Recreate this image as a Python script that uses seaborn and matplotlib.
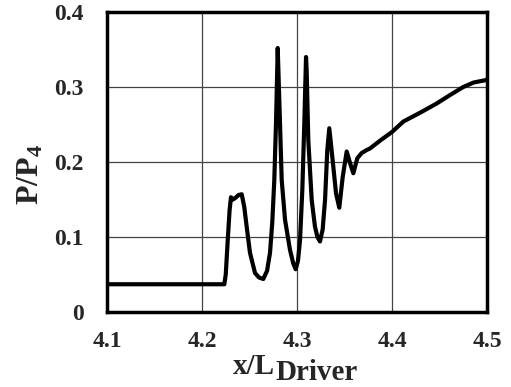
import matplotlib
matplotlib.use("Agg")
import matplotlib.pyplot as plt
import seaborn as sns
import pandas as pd

x_vals = [4.1000, 4.2235, 4.2250, 4.2271, 4.2290, 4.2305, 4.2326, 4.2350, 4.2385,
          4.2418, 4.2445, 4.2471, 4.2505, 4.2558, 4.2600, 4.2645, 4.2685, 4.2716,
          4.2740, 4.2761, 4.2779, 4.2797, 4.2821, 4.2839, 4.2874, 4.2926, 4.2960,
          4.2986, 4.3010, 4.3032, 4.3056, 4.3077, 4.3095, 4.3102, 4.3119, 4.3155,
          4.3189, 4.3215, 4.3242, 4.3270, 4.3295, 4.3319, 4.3340, 4.3382, 4.3411,
          4.3445, 4.3481, 4.3523, 4.3565, 4.3593, 4.3635, 4.3681, 4.3734, 4.3768,
          4.3880, 4.4000, 4.4120, 4.4300, 4.4470, 4.4620, 4.4750, 4.4860, 4.4980,
          4.5000]
p_vals = [0.037, 0.037, 0.050, 0.096, 0.135, 0.153, 0.150, 0.152, 0.156,
          0.157, 0.140, 0.113, 0.079, 0.052, 0.046, 0.044, 0.055, 0.079,
          0.120, 0.176, 0.252, 0.352, 0.252, 0.176, 0.123, 0.083, 0.065,
          0.057, 0.068, 0.096, 0.163, 0.252, 0.340, 0.320, 0.229, 0.149,
          0.114, 0.100, 0.094, 0.110, 0.149, 0.216, 0.245, 0.194, 0.158,
          0.139, 0.180, 0.214, 0.196, 0.185, 0.205, 0.212, 0.216, 0.218,
          0.229, 0.240, 0.254, 0.266, 0.278, 0.290, 0.300, 0.306, 0.309,
          0.310]

x_ticks = [4.1, 4.2, 4.3, 4.4, 4.5]
x_tick_labels = ["4.1", "4.2", "4.3", "4.4", "4.5"]
y_ticks = [0.0, 0.1, 0.2, 0.3, 0.4]
y_tick_labels = ["0", "0.1", "0.2", "0.3", "0.4"]

sns.set_style("white")
plt.rcParams["font.family"] = ["Liberation Serif", "DejaVu Serif"]
plt.rcParams["font.weight"] = "bold"
plt.rcParams["mathtext.fontset"] = "custom"
plt.rcParams["mathtext.rm"] = "Liberation Serif:bold"
plt.rcParams["mathtext.bf"] = "Liberation Serif:bold"
plt.rcParams["mathtext.it"] = "Liberation Serif:bold"

df = pd.DataFrame({"x": x_vals, "p": p_vals})

fig = plt.figure(figsize=(5.11, 3.87), dpi=100)
ax = fig.add_axes([107 / 511, 1 - 312 / 387, 380 / 511, 300 / 387])
sns.lineplot(data=df, x="x", y="p", ax=ax, color="black", linewidth=3.0,
             sort=False, solid_joinstyle="round", solid_capstyle="round")

ax.set_xlim(4.1, 4.5)
ax.set_ylim(0, 0.4)
ax.set_xticks(x_ticks)
ax.set_xticklabels(x_tick_labels, fontsize=17, fontweight="bold")
ax.set_yticks(y_ticks)
ax.set_yticklabels(y_tick_labels, fontsize=17, fontweight="bold")
ax.grid(True, color="#444444", linewidth=0.9)
ax.tick_params(axis="x", direction="in", length=4, width=1.5, color="black", pad=14)
ax.tick_params(axis="y", direction="in", length=4, width=1.5, color="black", pad=17)
for s in ax.spines.values():
    s.set_color("black")
    s.set_linewidth(2.5)

ax.set_xlabel("")
fig.text(275 / 511, 1 - 374 / 387, "x/L", ha="right", va="baseline",
         fontsize=21, fontweight="bold")
fig.text(275 / 511, 0.002, "Driver", ha="left", va="bottom",
         fontsize=21, fontweight="bold")

ax.set_ylabel(r"$\mathbf{P/P_4}$", fontsize=23)
ax.yaxis.set_label_coords((46 - 107) / 380, (312 - 174.5) / 300)

fig.savefig("out.png", dpi=100)
